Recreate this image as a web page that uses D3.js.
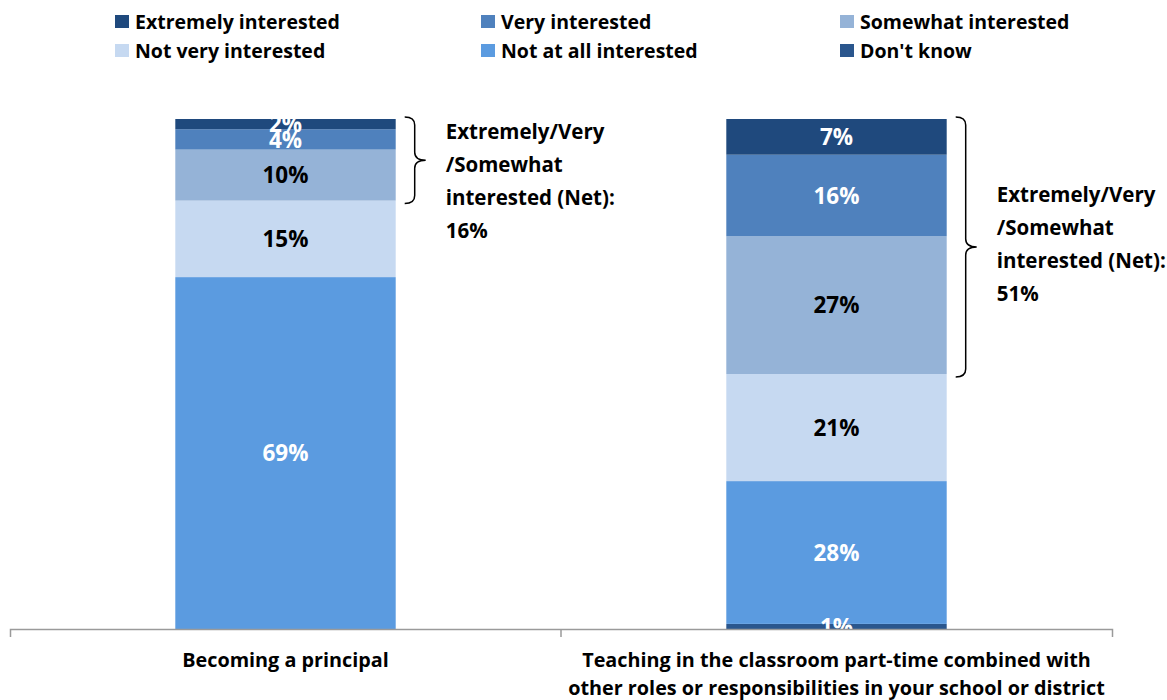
<!DOCTYPE html>
<html>
<head>
<meta charset="utf-8">
<script src="https://cdn.jsdelivr.net/npm/d3@7"></script>
<style>
  body { margin: 0; background: #fff; }
  svg { display: block; font-family: "Open Sans", Lato, sans-serif; font-weight: 700; }
</style>
</head>
<body>
<svg id="chart"></svg>
<script>
// データ（下から上への積み上げ順）
const categories = [
    "Becoming a principal",
    "Teaching in the classroom part-time combined with|other roles or responsibilities in your school or district"
];
const seriesNames = ["Don't know", "Not at all interested", "Not very interested", "Somewhat interested", "Very interested", "Extremely interested"];
const dontKnow  = [0, 1];
const notAtAll  = [69, 28];
const notVery   = [15, 21];
const somewhat  = [10, 27];
const very      = [4, 16];
const extremely = [2, 7];
const netValues = [16, 51];
const netLabel = ["Extremely/Very", "/Somewhat", "interested (Net):"];
const legendOrder = ["Extremely interested", "Very interested", "Somewhat interested", "Not very interested", "Not at all interested", "Don't know"];

const colors = {
    "Extremely interested": "#1f497d",
    "Very interested": "#4f81bd",
    "Somewhat interested": "#95b3d7",
    "Not very interested": "#c6d9f1",
    "Not at all interested": "#5b9be0",
    "Don't know": "#2a568d"
};
const labelColors = {
    "Extremely interested": "#fff",
    "Very interested": "#fff",
    "Somewhat interested": "#000",
    "Not very interested": "#000",
    "Not at all interested": "#fff",
    "Don't know": "#fff"
};

const width = 1167, height = 700;
const seriesValues = [dontKnow, notAtAll, notVery, somewhat, very, extremely];
const data = categories.map((c, i) => {
    const row = {category: c};
    seriesNames.forEach((s, j) => row[s] = seriesValues[j][i]);
    return row;
});

const svg = d3.select("#chart").attr("width", width).attr("height", height);

const x = d3.scaleBand()
    .domain(categories)
    .range([10, 1112])
    .paddingInner(0.6)
    .paddingOuter(0.3);

const y = d3.scaleLinear()
    .domain([0, 100])
    .range([629, 119]);

const stacked = d3.stack().keys(seriesNames)(data);

// 描画範囲でラベルを切り抜く
svg.append("clipPath").attr("id", "plot-clip")
    .append("rect")
    .attr("x", 0).attr("y", y(100))
    .attr("width", width).attr("height", y(0) - y(100));

const layers = svg.append("g")
    .selectAll("g")
    .data(stacked)
    .join("g")
    .attr("fill", d => colors[d.key]);

layers.selectAll("rect")
    .data(d => d)
    .join("rect")
    .attr("x", d => x(d.data.category))
    .attr("width", x.bandwidth())
    .attr("y", d => y(d[1]))
    .attr("height", d => y(d[0]) - y(d[1]));

// データラベル
const labels = svg.append("g").attr("clip-path", "url(#plot-clip)")
    .attr("font-size", 22.5)
    .attr("text-anchor", "middle");

stacked.forEach(layer => {
    labels.selectAll(null)
        .data(layer.filter(d => d[1] - d[0] > 0))
        .join("text")
        .attr("x", d => x(d.data.category) + x.bandwidth() / 2)
        .attr("y", d => y((d[0] + d[1]) / 2))
        .attr("dy", "0.36em")
        .attr("fill", labelColors[layer.key])
        .text(d => (d[1] - d[0]) + "%");
});

// X軸
const xAxis = d3.axisBottom(x).tickSize(0).tickSizeOuter(8).tickPadding(0);
const axisG = svg.append("g")
    .attr("transform", `translate(0,${y(0)})`)
    .call(xAxis)
    .attr("font-family", null)
    .attr("font-size", 19.8)
    .call(g => g.select(".domain").attr("stroke", "#9a9a9a").attr("stroke-width", 1.5))
    .call(g => g.selectAll(".tick text").remove());

// カテゴリ間の目盛り
d3.range(1, categories.length).forEach(i => {
    const bx = x.range()[0] + i * x.step();
    axisG.append("line")
        .attr("x1", bx).attr("x2", bx)
        .attr("y1", 0).attr("y2", 8)
        .attr("stroke", "#9a9a9a").attr("stroke-width", 1.5);
});

axisG.selectAll(".tick")
    .append("text")
    .attr("fill", "#000")
    .attr("text-anchor", "middle")
    .selectAll("tspan")
    .data(d => d.split("|"))
    .join("tspan")
    .attr("x", 0)
    .attr("y", (d, i) => 38 + i * 28)
    .text(d => d);

// 波括弧（Net）
function bracePath(x0, top, bottom) {
    const mid = (top + bottom) / 2;
    const w = 10, tip = 21, r = 8;
    return `M${x0},${top}` +
        ` Q${x0 + w},${top} ${x0 + w},${top + r}` +
        ` L${x0 + w},${mid - r}` +
        ` Q${x0 + w},${mid} ${x0 + tip},${mid}` +
        ` Q${x0 + w},${mid} ${x0 + w},${mid + r}` +
        ` L${x0 + w},${bottom - r}` +
        ` Q${x0 + w},${bottom} ${x0},${bottom}`;
}

data.forEach((d, i) => {
    const netBottom = d["Don't know"] + d["Not at all interested"] + d["Not very interested"];
    const top = y(100) - 2, bottom = y(netBottom) + 3;
    const bx = x(d.category) + x.bandwidth() + 9;
    svg.append("path")
        .attr("d", bracePath(bx, top, bottom))
        .attr("fill", "none")
        .attr("stroke", "#000")
        .attr("stroke-width", 1.5);

    const mid = (top + bottom) / 2;
    const lines = netLabel.concat([netValues[i] + "%"]);
    const lineStartY = i === 0 ? mid - 29 : mid - 52;
    svg.append("text")
        .attr("font-size", 20.5)
        .attr("fill", "#000")
        .selectAll("tspan")
        .data(lines)
        .join("tspan")
        .attr("x", bx + 41)
        .attr("y", (t, k) => lineStartY + k * 33)
        .attr("dy", "0.36em")
        .text(t => t);
});

// 凡例
const legendX = [115, 481, 840];
const legend = svg.append("g")
    .selectAll("g")
    .data(legendOrder)
    .join("g")
    .attr("transform", (d, i) => `translate(${legendX[i % 3]},${22 + Math.floor(i / 3) * 29})`);

legend.append("rect")
    .attr("x", 0).attr("y", -7)
    .attr("width", 14).attr("height", 13)
    .attr("fill", d => colors[d]);

legend.append("text")
    .attr("x", 20)
    .attr("dy", "0.36em")
    .attr("font-size", 19.5)
    .attr("fill", "#000")
    .text(d => d);
</script>
</body>
</html>
